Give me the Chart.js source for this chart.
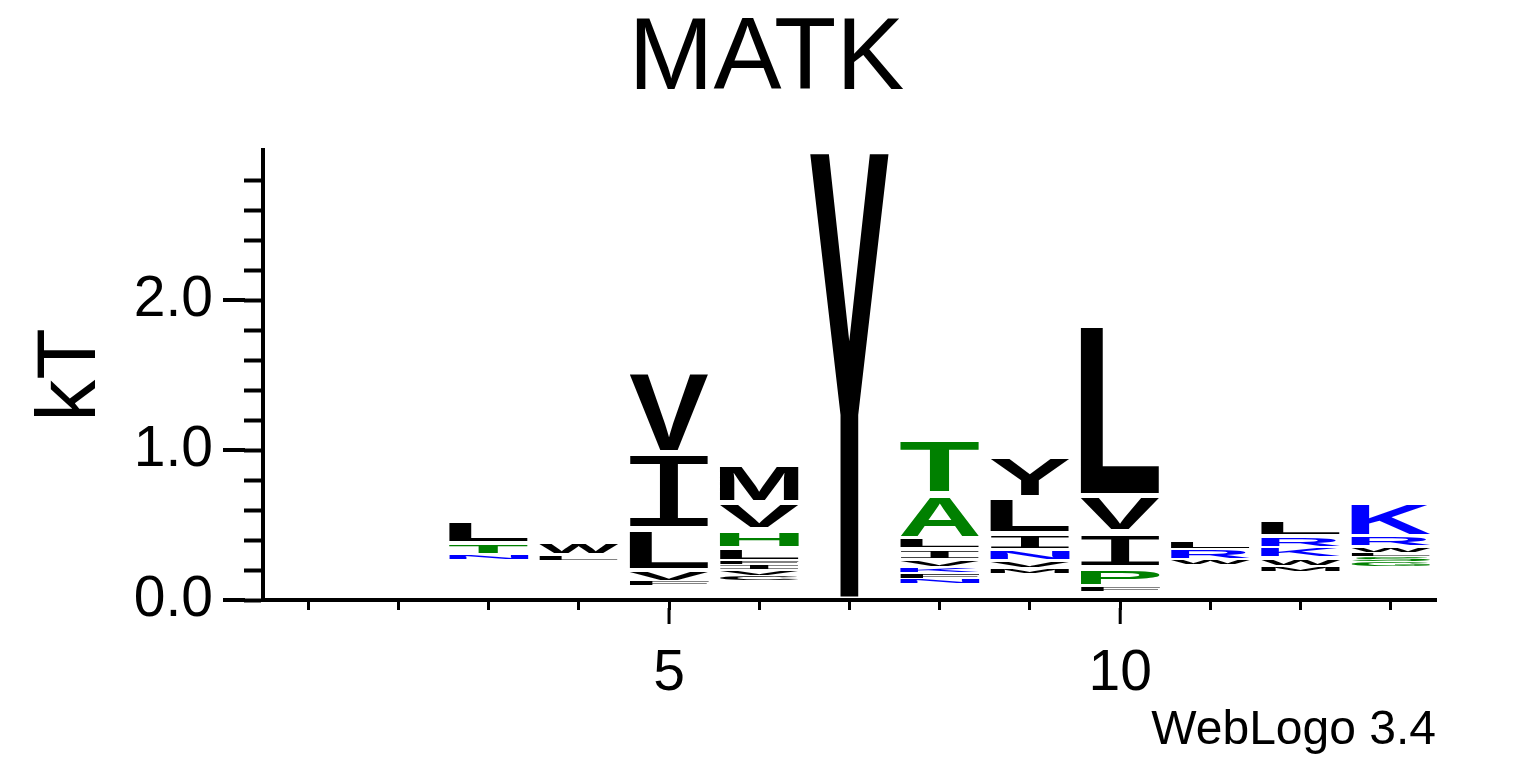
<!DOCTYPE html>
<html>
<head>
<meta charset="utf-8">
<title>MATK</title>
<script src="https://cdn.jsdelivr.net/npm/chart.js@4.4.1/dist/chart.umd.min.js"></script>
<style>
  body { margin: 0; background: #fff; }
  #wrap { width: 1533px; height: 767px; }
</style>
</head>
<body>
<div id="wrap"><canvas id="logo"></canvas></div>
<script>
// sequence positions and which ones get a label
const positions = ["1", "2", "3", "4", "5", "6", "7", "8", "9", "10", "11", "12", "13"];
const majorPositions = ["5", "10"];

// where each stack starts (kT)
const stackBase = [0, 0, 0.267, 0.26, 0.093, 0.127, 0, 0.107, 0.173, 0.053, 0.233, 0.187, 0.22];

// letters of each stack, bottom to top
const stackLetters = [
  [],
  [],
  ["N", "T", "L"],
  ["L", "W"],
  ["F", "V", "L", "I", "V"],
  ["C", "V", "I", "F", "L", "H", "V", "M"],
  ["Y"],
  ["N", "F", "K", "V", "I", "L", "A", "T"],
  ["M", "V", "N", "I", "L", "Y"],
  ["F", "P", "I", "V", "L"],
  ["W", "R", "L"],
  ["M", "W", "K", "R", "L"],
  ["G", "S", "L", "W", "R", "K"],
];

// letter heights (kT), same order as stackLetters
const stackHeights = [
  [],
  [],
  [0.033, 0.073, 0.16],
  [0.04, 0.08],
  [0.033, 0.067, 0.28, 0.507, 0.54],
  [0.033, 0.04, 0.033, 0.027, 0.08, 0.127, 0.18, 0.26],
  [3.0],
  [0.033, 0.04, 0.04, 0.047, 0.073, 0.067, 0.3, 0.367],
  [0.04, 0.047, 0.067, 0.113, 0.24, 0.28],
  [0.033, 0.127, 0.24, 0.24, 1.14],
  [0.033, 0.073, 0.06],
  [0.04, 0.053, 0.067, 0.073, 0.113],
  [0.033, 0.033, 0.027, 0.04, 0.067, 0.24],
];

// hydrophobicity colour scheme
const hydrophilic = ["R", "K", "D", "E", "N", "Q"];
const neutral = ["S", "G", "H", "T", "A", "P"];

function letterColor(letter) {
  if (hydrophilic.includes(letter)) return "#0000ff";
  if (neutral.includes(letter)) return "#008000";
  return "#000000";
}

// one dataset per stack level; level 0 is the empty base
function buildDatasets() {
  const depth = Math.max(...stackLetters.map((s) => s.length));
  const sets = [
    {
      label: "base",
      data: stackBase,
      backgroundColor: "rgba(0,0,0,0)",
      borderWidth: 0,
    },
  ];
  for (let k = 0; k < depth; k++) {
    sets.push({
      label: "level " + (k + 1),
      data: stackHeights.map((h) => h[k] || 0),
      letters: stackLetters.map((s) => s[k] || ""),
      backgroundColor: "rgba(0,0,0,0)",
      borderWidth: 0,
    });
  }
  return sets;
}

// stretch a glyph so it fills the box
function drawGlyph(ctx, letter, left, top, w, h, color) {
  if (w <= 0 || h <= 0.2) return;
  ctx.save();
  // the I needs serifs, otherwise it becomes a plain block
  ctx.font = letter === "I" ? '200px "Liberation Mono"' : 'bold 200px "Liberation Sans"';
  ctx.textAlign = "left";
  ctx.textBaseline = "alphabetic";
  const m = ctx.measureText(letter);
  const gw = m.actualBoundingBoxLeft + m.actualBoundingBoxRight;
  const gh = m.actualBoundingBoxAscent + m.actualBoundingBoxDescent;
  ctx.translate(left, top);
  ctx.scale(w / gw, h / gh);
  ctx.fillStyle = color;
  ctx.fillText(letter, m.actualBoundingBoxLeft, m.actualBoundingBoxAscent);
  ctx.restore();
}

const logoLetters = {
  id: "logoLetters",
  afterDatasetsDraw(chart) {
    const ctx = chart.ctx;
    chart.data.datasets.forEach((ds, di) => {
      if (!ds.letters) return;
      chart.getDatasetMeta(di).data.forEach((bar, i) => {
        const letter = ds.letters[i];
        if (!letter) return;
        const p = bar.getProps(["x", "y", "base", "width"], true);
        const h = p.base - p.y;
        if (h <= 0) return;
        const pad = Math.min(3, h * 0.15);
        drawGlyph(ctx, letter, p.x - p.width / 2, p.y + pad, p.width, h - 2 * pad, letterColor(letter));
      });
    });
  },
};

// longer tick marks at the labelled values
const majorTicks = {
  id: "majorTicks",
  afterDraw(chart) {
    const ctx = chart.ctx;
    const xs = chart.scales.x;
    const ys = chart.scales.y;
    ctx.save();
    ctx.strokeStyle = "#000";
    ctx.lineWidth = 3;
    positions.forEach((p, i) => {
      if (!majorPositions.includes(p)) return;
      const px = xs.getPixelForTick(i);
      ctx.beginPath();
      ctx.moveTo(px, xs.top + 8);
      ctx.lineTo(px, xs.top + 24);
      ctx.stroke();
    });
    ctx.lineWidth = 4;
    ys.ticks.forEach((t) => {
      if (Math.abs(t.value - Math.round(t.value)) > 1e-6) return;
      const py = ys.getPixelForValue(t.value);
      ctx.beginPath();
      ctx.moveTo(ys.right - 18, py);
      ctx.lineTo(ys.right - 40, py);
      ctx.stroke();
    });
    ctx.restore();
  },
};

Chart.defaults.font.family = '"Liberation Sans", Arial, sans-serif';
Chart.defaults.color = "#000";

new Chart(document.getElementById("logo"), {
  type: "bar",
  data: {
    labels: positions,
    datasets: buildDatasets(),
  },
  options: {
    responsive: true,
    maintainAspectRatio: false,
    animation: false,
    barPercentage: 0.875,
    categoryPercentage: 1.0,
    layout: { padding: 0 },
    plugins: {
      legend: { display: false },
      tooltip: { enabled: false },
      title: {
        display: true,
        text: "MATK",
        color: "#000",
        font: { size: 102, weight: "normal", lineHeight: 1 },
        padding: { top: 10, bottom: 38 },
      },
      subtitle: {
        display: true,
        text: "WebLogo 3.4",
        position: "bottom",
        align: "end",
        fullSize: false,
        color: "#000",
        font: { size: 48, weight: "normal", lineHeight: 1 },
        padding: { top: 0, bottom: 12 },
      },
    },
    scales: {
      x: {
        stacked: true,
        offset: true,
        afterFit: function (scale) {
          scale.height = 107;
        },
        ticks: {
          autoSkip: false,
          maxRotation: 0,
          padding: 30,
          font: { size: 57 },
          callback: function (value, index) {
            return majorPositions.includes(positions[index]) ? positions[index] : "";
          },
        },
        grid: { offset: false, drawOnChartArea: false, tickLength: 10, tickWidth: 3, tickColor: "#000" },
        border: { color: "#000", width: 4 },
      },
      y: {
        stacked: true,
        min: 0,
        max: 3,
        afterFit: function (scale) {
          scale.width = 263;
        },
        // ticks every 0.2 up to 2.8
        afterBuildTicks: function (scale) {
          const ticks = [];
          for (let i = 0; i <= 14; i++) ticks.push({ value: i / 5 });
          scale.ticks = ticks;
        },
        ticks: {
          autoSkip: false,
          padding: 31,
          font: { size: 57 },
          callback: function (value) {
            return Math.abs(value - Math.round(value)) < 1e-6 ? Math.round(value).toFixed(1) : "";
          },
        },
        grid: { drawOnChartArea: false, tickLength: 19, tickWidth: 4, tickColor: "#000" },
        border: { color: "#000", width: 4 },
        title: {
          display: true,
          text: "kT",
          color: "#000",
          font: { size: 84, lineHeight: 1 },
          padding: { top: 30, bottom: 0 },
        },
      },
      // empty right axis, only keeps the margin on the right
      yRight: {
        position: "right",
        afterFit: function (scale) {
          scale.width = 97;
        },
        ticks: { display: false },
        grid: { display: false },
        border: { display: false },
      },
    },
  },
  plugins: [logoLetters, majorTicks],
});
</script>
</body>
</html>
